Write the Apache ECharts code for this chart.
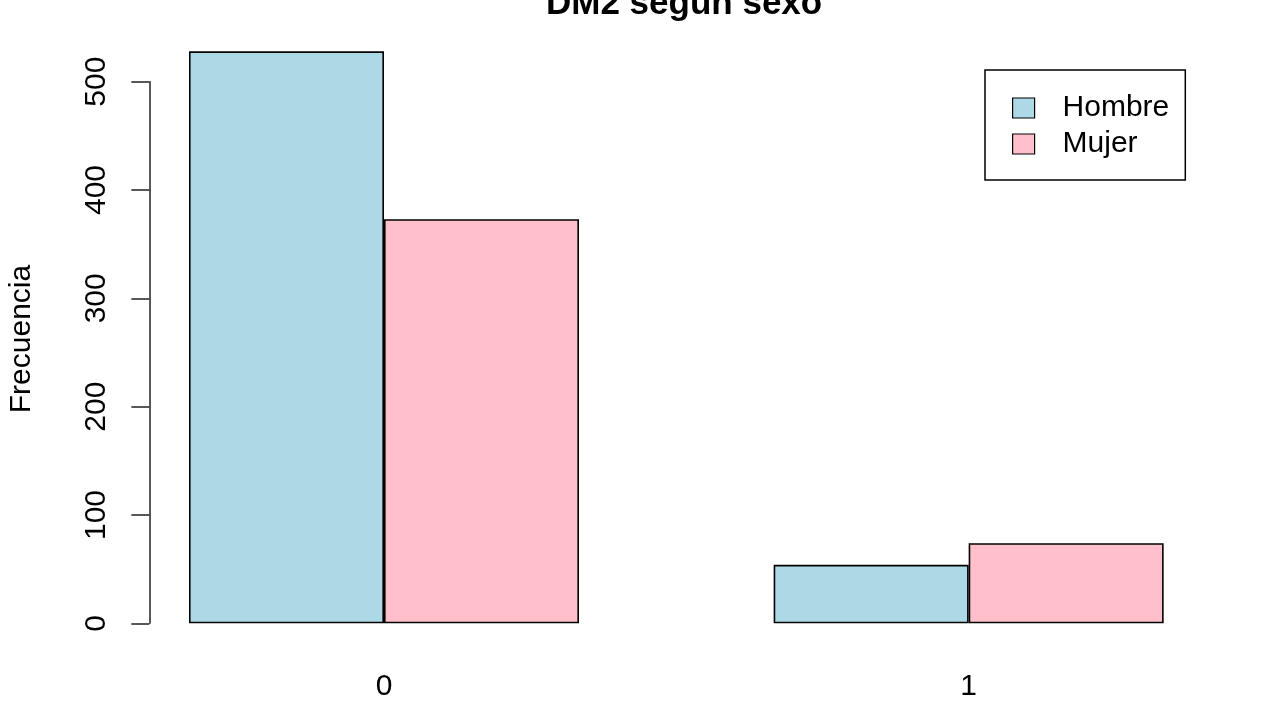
<!DOCTYPE html>
<html>
<head>
<meta charset="utf-8">
<script src="https://cdn.jsdelivr.net/npm/echarts@6/dist/echarts.min.js"></script>
<style>
html,body{margin:0;padding:0;background:#fff;}
#chart{width:1280px;height:720px;}
</style>
</head>
<body>
<div id="chart"></div>
<script>
const categories = ['0', '1'];
const hombre = [528, 54];
const mujer = [373, 74];
const seriesNames = ['Hombre', 'Mujer'];
const yTicks = [0, 100, 200, 300, 400, 500];
const titleText = 'DM2 según sexo';
const yLabel = 'Frecuencia';

const FONT = '"Liberation Sans", Arial, Helvetica, sans-serif';
const chart = echarts.init(document.getElementById('chart'), null, {renderer: 'canvas'});
chart.setOption({
  backgroundColor: '#ffffff',
  animation: false,
  title: {
    text: titleText,
    left: 541,
    top: -18,
    textStyle: {fontFamily: FONT, fontSize: 35, fontWeight: 'bold', color: '#000'}
  },
  graphic: [{
    type: 'text',
    x: 22,
    y: 339,
    rotation: Math.PI / 2,
    style: {
      text: yLabel,
      font: '30px ' + FONT,
      fill: '#000',
      align: 'center',
      verticalAlign: 'middle'
    }
  }],
  legend: {
    data: seriesNames,
    orient: 'vertical',
    left: 985,
    top: 70,
    padding: [23, 16, 21, 27],
    itemWidth: 22,
    itemHeight: 20,
    itemGap: 6,
    borderColor: '#000',
    borderWidth: 1.5,
    icon: 'rect',
    itemStyle: {borderColor: '#000', borderWidth: 1.2},
    textStyle: {fontFamily: FONT, fontSize: 30, color: '#000', padding: [0, 0, 0, 23]}
  },
  grid: {left: 91.65, right: 19, top: 81.7, bottom: 96.7},
  xAxis: {
    type: 'category',
    data: categories,
    axisLine: {show: false},
    axisTick: {show: false},
    axisLabel: {fontFamily: FONT, fontSize: 30, color: '#000', margin: 48}
  },
  yAxis: {
    type: 'value',
    min: yTicks[0],
    max: yTicks[yTicks.length - 1],
    interval: 100,
    offset: -57.7,
    splitLine: {show: false},
    axisLine: {show: true, lineStyle: {color: '#222', width: 1.5}},
    axisTick: {show: true, length: 18, lineStyle: {color: '#222', width: 1.5}},
    axisLabel: {fontFamily: FONT, fontSize: 30, color: '#000', rotate: 90, margin: 38}
  },
  series: [
    {
      name: seriesNames[0],
      type: 'bar',
      data: hombre,
      barWidth: 195,
      barGap: '0%',
      clip: false,
      itemStyle: {color: '#ADD8E6', borderColor: '#000', borderWidth: 1.6}
    },
    {
      name: seriesNames[1],
      type: 'bar',
      data: mujer,
      barWidth: 195,
      barGap: '0%',
      clip: false,
      itemStyle: {color: '#FFC0CB', borderColor: '#000', borderWidth: 1.6}
    }
  ]
});
</script>
</body>
</html>
